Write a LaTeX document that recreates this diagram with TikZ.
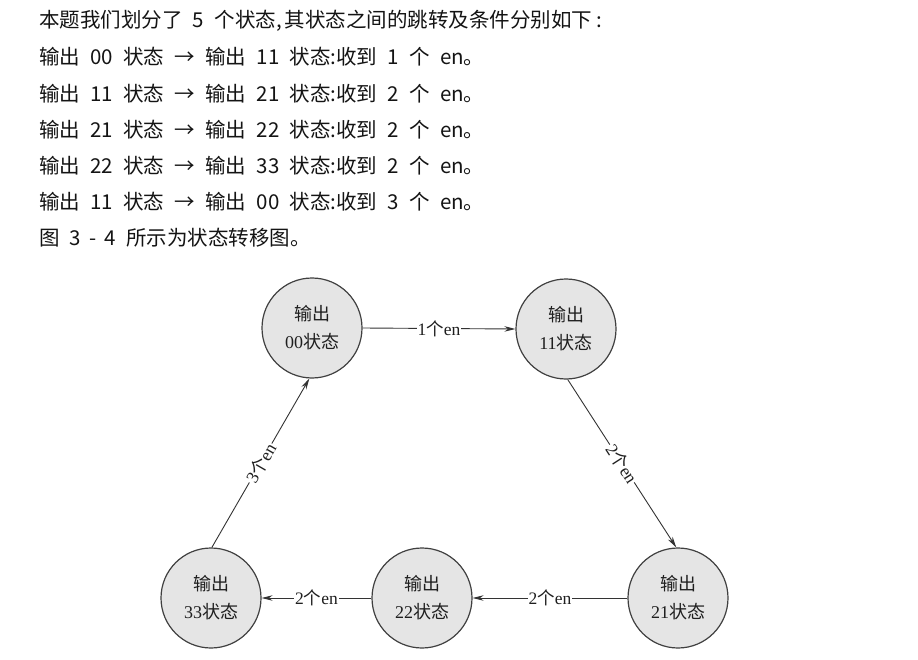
\documentclass[tikz,border=0pt]{standalone}
\usepackage{fontspec}
\setmainfont{Liberation Serif}
\newfontfamily\cjk{Noto Sans CJK SC}
\usetikzlibrary{arrows.meta}
\newcommand\gp{\hspace{0.5em}}
\newcommand\arr{\hspace{0.5em}→\hspace{0.5em}}
\begin{document}
\begin{tikzpicture}[x=1pt,y=-1pt,
  bodytext/.style={anchor=west, inner sep=0pt, text=black!92,
    font=\cjk\fontsize{20.5}{24}\selectfont},
  state/.style={circle, draw=black!75, line width=1.2pt, fill=black!10,
    minimum size=100pt, inner sep=0pt, align=center, text=black!88,
    font=\fontsize{18}{28}\selectfont},
  conn/.style={draw=black!80, line width=0.9pt, -{Stealth[length=11pt,width=5.5pt]}},
  lab/.style={fill=white, inner sep=1pt, text=black!88,
    font=\fontsize{17.5}{19}\selectfont}
]
\useasboundingbox (0,0) rectangle (918,660);
\fill[white] (0,0) rectangle (918,660);

\node[bodytext] (t1) at (39,21) {本题我们划分了\gp{}5\gp{}个状态,\hspace{0.15em}其状态之间的跳转及条件分别如下\hspace{0.2em}:};
\node[bodytext] (t2) at (39,57) {输出\gp{}00\gp{}状态\arr{}输出\gp{}11\gp{}状态:收到\gp{}1\gp{}个\gp{}en。};
\node[bodytext] (t3) at (39,94) {输出\gp{}11\gp{}状态\arr{}输出\gp{}21\gp{}状态:收到\gp{}2\gp{}个\gp{}en。};
\node[bodytext] (t4) at (39,130) {输出\gp{}21\gp{}状态\arr{}输出\gp{}22\gp{}状态:收到\gp{}2\gp{}个\gp{}en。};
\node[bodytext] (t5) at (39,166) {输出\gp{}22\gp{}状态\arr{}输出\gp{}33\gp{}状态:收到\gp{}2\gp{}个\gp{}en。};
\node[bodytext] (t6) at (39,202) {输出\gp{}11\gp{}状态\arr{}输出\gp{}00\gp{}状态:收到\gp{}3\gp{}个\gp{}en。};
\node[bodytext] (t7) at (39,238) {图\gp{}3\hspace{0.4em}-\hspace{0.4em}4\gp{}所示为状态转移图。};

\node[state] (n00) at (312,328) {{\cjk 输出}\\00{\cjk 状态}};
\node[state] (n11) at (566,329) {{\cjk 输出}\\11{\cjk 状态}};
\node[state] (n21) at (678,598) {{\cjk 输出}\\21{\cjk 状态}};
\node[state] (n22) at (422,598) {{\cjk 输出}\\22{\cjk 状态}};
\node[state] (n33) at (211,598) {{\cjk 输出}\\33{\cjk 状态}};

\draw[conn] (n00.east) -- node[lab] {1{\cjk 个}en} (n11.west);
\draw[conn] (n11.-88) -- node[lab, sloped] {2{\cjk 个}en} (n21.92);
\draw[conn] (n21.west) -- node[lab] {2{\cjk 个}en} (n22.east);
\draw[conn] (n22.west) -- node[lab] {2{\cjk 个}en} (n33.east);
\draw[conn] (n33.89) -- node[lab, sloped] {3{\cjk 个}en} (n00.-93);
\end{tikzpicture}
\end{document}
